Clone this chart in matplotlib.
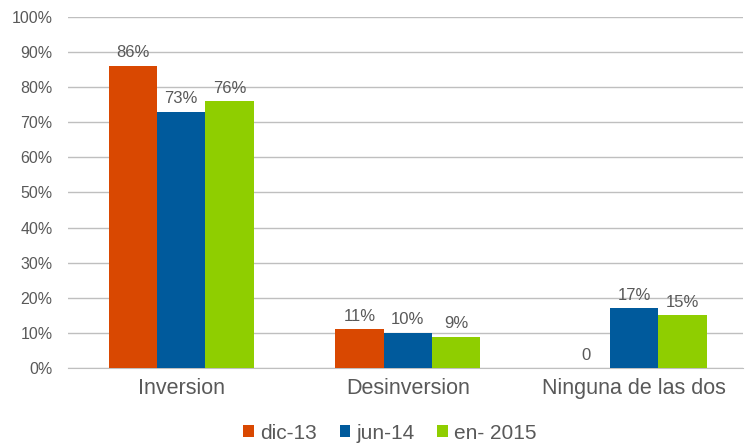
import numpy as np
import matplotlib.pyplot as plt

plt.rcParams['font.family'] = ['Liberation Sans', 'DejaVu Sans']

categories = ['Inversion', 'Desinversion', 'Ninguna de las dos']
series = ['dic-13', 'jun-14', 'en- 2015']
dic13 = [86, 11, 0]
jun14 = [73, 10, 17]
en2015 = [76, 9, 15]
labels_dic13 = ['86%', '11%', '0']
labels_jun14 = ['73%', '10%', '17%']
labels_en2015 = ['76%', '9%', '15%']

colors = ['#D94801', '#005A9C', '#8FCE00']
text_color = '#595959'

fig = plt.figure(figsize=(7.46, 4.43), dpi=100)
ax = fig.add_axes([0.091, 0.169, 0.905, 0.793])

x = np.arange(len(categories))
w = 0.213
data = [dic13, jun14, en2015]
labs = [labels_dic13, labels_jun14, labels_en2015]
for i, (vals, lab) in enumerate(zip(data, labs)):
    bars = ax.bar(x + (i - 1) * w, vals, w, color=colors[i], label=series[i], zorder=3)
    ax.bar_label(bars, labels=lab, padding=4, fontsize=12, color=text_color)

ax.set_ylim(0, 100)
ax.set_xlim(-0.5, 2.48)
ax.set_yticks(np.arange(0, 101, 10))
ax.set_yticklabels([f'{v}%' for v in range(0, 101, 10)])
ax.set_xticks(x)
ax.set_xticklabels(categories)
ax.tick_params(axis='y', labelsize=11.5, colors=text_color, length=0, pad=11)
ax.tick_params(axis='x', labelsize=15.5, colors=text_color, length=0, pad=7)
ax.grid(axis='y', color='#BFBFBF', linewidth=1, zorder=0)
for s in ['top', 'right', 'left']:
    ax.spines[s].set_visible(False)
ax.spines['bottom'].set_color('#BFBFBF')

ax.legend(loc='upper center', bbox_to_anchor=(0.477, -0.105), ncol=3, frameon=False,
          fontsize=15, labelcolor=text_color, handlelength=0.5, handleheight=0.5,
          handletextpad=0.3, columnspacing=1.1)

plt.savefig('out.png', dpi=100)
